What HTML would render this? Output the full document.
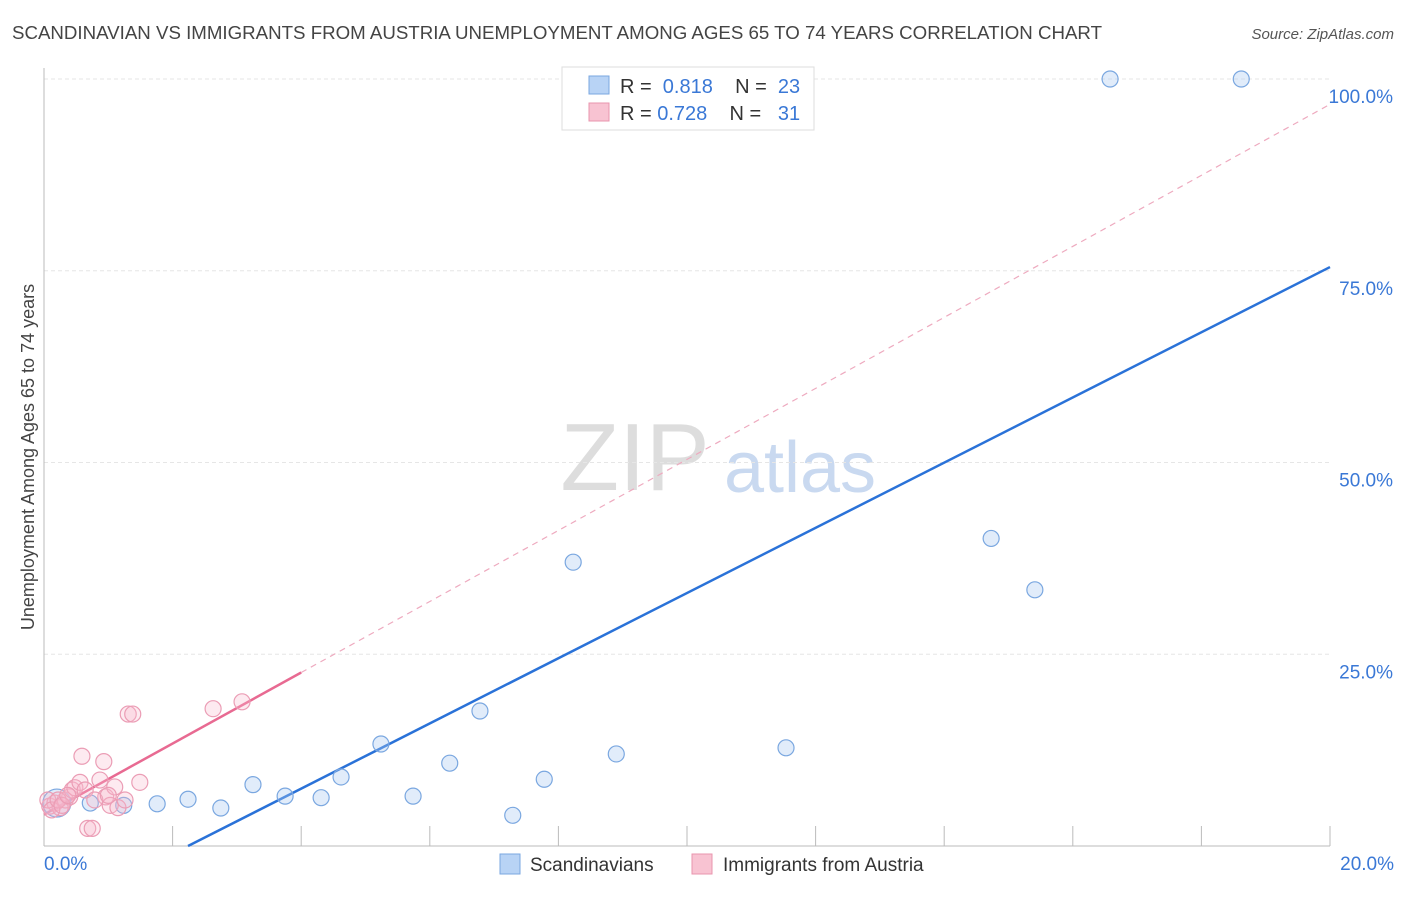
<!DOCTYPE html>
<html><head><meta charset="utf-8"><style>
body{margin:0;background:#fff;font-family:"Liberation Sans",sans-serif;}
svg text{font-family:"Liberation Sans",sans-serif;}
</style></head><body>
<svg id="chart" width="1406" height="892" xmlns="http://www.w3.org/2000/svg">
<text x="12" y="39" font-size="18.7" fill="#444">SCANDINAVIAN VS IMMIGRANTS FROM AUSTRIA UNEMPLOYMENT AMONG AGES 65 TO 74 YEARS CORRELATION CHART</text>
<text x="1394" y="39" font-size="15" fill="#555" text-anchor="end" font-style="italic">Source: ZipAtlas.com</text>
<text transform="translate(34,457) rotate(-90)" font-size="18" fill="#444" text-anchor="middle">Unemployment Among Ages 65 to 74 years</text>
<g>
<text x="635" y="490" font-size="96" fill="#ddd" text-anchor="middle" font-family="Liberation Serif,serif">ZIP</text>
<text x="800" y="492" font-size="72" fill="#c9d9f0" text-anchor="middle">atlas</text>
</g>
<g id="grid"></g><g id="axes"></g><g id="lines"></g><g id="pts"></g>
<g>
<rect x="562" y="67" width="252" height="63" fill="#fff" stroke="#ddd"/>
<rect x="589" y="76" width="20" height="18" fill="#b8d3f5" stroke="#7aa7e0"/>
<text x="620" y="93" font-size="20" fill="#333" xml:space="preserve">R =  <tspan fill="#3a78d6">0.818</tspan>    N =  <tspan fill="#3a78d6">23</tspan></text>
<rect x="589" y="103" width="20" height="18" fill="#f8c3d2" stroke="#e994ae"/>
<text x="620" y="120" font-size="20" fill="#333" xml:space="preserve">R = <tspan fill="#3a78d6">0.728</tspan>    N =   <tspan fill="#3a78d6">31</tspan></text>
</g>
<g>
<rect x="500" y="854" width="20" height="20" fill="#b8d3f5" stroke="#7aa7e0"/>
<text x="530" y="871" font-size="19" fill="#333">Scandinavians</text>
<rect x="692" y="854" width="20" height="20" fill="#f8c3d2" stroke="#e994ae"/>
<text x="723" y="871" font-size="19" fill="#333">Immigrants from Austria</text>
</g>
</svg>
<script>
const blueX=[0.20,0.72,1.24,1.76,2.24,2.75,3.25,3.75,4.31,4.62,5.24,5.74,6.31,6.78,7.29,7.78,8.23,8.90,11.54,14.73,15.41,16.58,18.62];
const blueY=[5.6,5.6,5.3,5.5,6.1,4.95,8.0,6.5,6.3,9.0,13.3,6.5,10.8,17.6,4.0,8.7,37.0,12.0,12.8,40.1,33.4,100,100];
const pinkX=[0.09,0.17,0.25,0.33,0.40,0.44,0.48,0.56,0.59,0.64,0.68,0.75,0.87,0.93,0.96,1.03,1.10,1.15,1.26,1.31,1.38,1.49,2.63,3.08,0.06,0.12,0.22,0.28,0.37,0.79,1.00];
const pinkY=[5.2,5.6,5.0,6.0,6.4,7.3,7.6,8.3,11.7,7.3,2.3,2.3,8.6,11.0,6.4,5.3,7.7,5.0,6.0,17.2,17.2,8.3,17.9,18.8,6.0,4.7,6.0,5.3,6.6,6.0,6.6];
const yTicks=[25,50,75,100];
const yTickLabels=["25.0%","50.0%","75.0%","100.0%"];
const xTicks=[0,2,4,6,8,10,12,14,16,18,20];
const blueTrend=[-9.52,4.25];
const pinkTrend=[4.1,4.63];
const NS="http://www.w3.org/2000/svg";
const sx=v=>44+v*64.3, sy=v=>846-v*7.67;
function mk(t,a,p){const e=document.createElementNS(NS,t);for(const k in a)e.setAttribute(k,a[k]);document.getElementById(p).appendChild(e);return e;}
yTicks.forEach((t,i)=>{
 const l=mk('line',{x1:44,x2:1330,y1:sy(t),y2:sy(t),stroke:'#e6e6e6','stroke-dasharray':'4,3'},'grid');
 
 
 const tx=mk('text',{x:1393,y:sy(t)+24,'font-size':19,fill:'#3a78d6','text-anchor':'end'},'axes');
 tx.textContent=yTickLabels[i];
 
 
});
const ax=mk('line',{x1:44,x2:44,y1:68,y2:846,stroke:'#bbb'},'axes');


const bx=mk('line',{x1:44,x2:1330,y1:846,y2:846,stroke:'#bbb'},'axes');


xTicks.forEach(t=>{
 const l=mk('line',{x1:sx(t),x2:sx(t),y1:826,y2:846,stroke:'#bbb'},'axes');
 
 
});
[[0,'0.0%','start',44],[20,'20.0%','end',1394]].forEach(d=>{
 const tx=mk('text',{x:d[3],y:870,'font-size':19,fill:'#3a78d6','text-anchor':d[2]},'axes');
 tx.textContent=d[1];
 
 
});
const x0b=-blueTrend[0]/blueTrend[1];
const bl=mk('line',{x1:sx(x0b),y1:sy(0),x2:sx(20),y2:sy(blueTrend[0]+blueTrend[1]*20),stroke:'#2a72d8','stroke-width':2.5},'lines');


const pl=mk('line',{x1:sx(0),y1:sy(pinkTrend[0]),x2:sx(4),y2:sy(pinkTrend[0]+pinkTrend[1]*4),stroke:'#e86a92','stroke-width':2.5},'lines');


const pd=mk('line',{x1:sx(4),y1:sy(pinkTrend[0]+pinkTrend[1]*4),x2:sx(20),y2:sy(pinkTrend[0]+pinkTrend[1]*20),stroke:'#eeaabf','stroke-width':1.2,'stroke-dasharray':'6,5'},'lines');


blueX.forEach((x,i)=>{
 const c=mk('circle',{cx:sx(x),cy:sy(blueY[i]),r:i==0?14:8,fill:'rgba(170,200,240,0.35)',stroke:'#7aa7e0','stroke-width':1.2},'pts');
 
 
});
pinkX.forEach((x,i)=>{
 const c=mk('circle',{cx:sx(x),cy:sy(pinkY[i]),r:8,fill:'rgba(248,185,205,0.3)',stroke:'#eb9db5','stroke-width':1.2},'pts');
 
 
});
</script>
</body></html>
